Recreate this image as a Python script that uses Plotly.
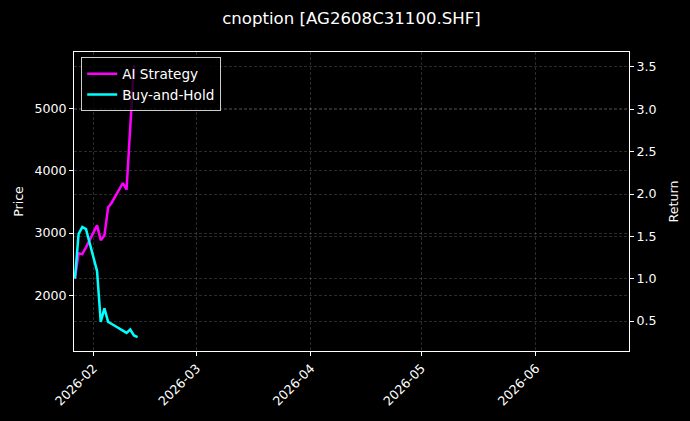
import plotly.graph_objects as go

# ---- data ----
dates = ["2026-01-27", "2026-01-28", "2026-01-29", "2026-01-30",
         "2026-02-02", "2026-02-03", "2026-02-04", "2026-02-05", "2026-02-06",
         "2026-02-09", "2026-02-10", "2026-02-11", "2026-02-12", "2026-02-13"]
ai_strategy = [1.00, 1.30, 1.29, 1.37, 1.63, 1.455, 1.51, 1.84, 1.90,
               2.13, 2.05, 2.78, 3.52, None]
buy_and_hold = [1.00, 1.53, 1.61, 1.585, 1.09, 0.49, 0.65, 0.49, 0.465,
                0.39, 0.36, 0.40, 0.33, 0.31]

title_text = "cnoption [AG2608C31100.SHF]"
price_range = [1106, 5908]
return_range = [0.146, 3.677]
x_range = ["2026-01-26 18:00", "2026-06-26 06:00"]

FONT = "DejaVu Sans"
GRID = "rgba(255,255,255,0.17)"

fig = go.Figure()
# empty trace so the left (Price) axis is created; it draws no mark
fig.add_trace(go.Scatter(x=[], y=[], yaxis="y", showlegend=False, hoverinfo="skip"))
fig.add_trace(go.Scatter(x=dates, y=ai_strategy, name="AI Strategy", mode="lines",
                         line=dict(color="#ff00ff", width=2.5), yaxis="y2"))
fig.add_trace(go.Scatter(x=dates, y=buy_and_hold, name="Buy-and-Hold", mode="lines",
                         line=dict(color="#00ffff", width=2.5), yaxis="y2"))

common = dict(showline=True, linecolor="white", linewidth=1,
              ticks="outside", ticklen=4, tickcolor="white",
              showgrid=True, gridcolor=GRID, griddash="3px,2px", gridwidth=0.8,
              zeroline=False, automargin=False)

fig.update_layout(
    width=690, height=421,
    paper_bgcolor="black", plot_bgcolor="black",
    font=dict(family=FONT, color="white", size=12.6),
    margin=dict(l=74, r=61, t=52, b=70),
    title=dict(text=title_text, x=0.5, xref="paper", y=0.957, yanchor="middle",
               xanchor="center", font=dict(size=16.6, color="white")),
    showlegend=True,
    legend=dict(x=0.013, y=0.982, xanchor="left", yanchor="top",
                bgcolor="rgba(0,0,0,0.8)", bordercolor="#cccccc", borderwidth=1,
                font=dict(size=13.6, color="white"), tracegroupgap=0),
    xaxis=dict(type="date", range=x_range, tickformat="%Y-%m", dtick="M1",
               tick0="2026-02-01", tickangle=-45, mirror=True, **common),
    yaxis=dict(range=price_range, tick0=2000, dtick=1000, side="left",
               title=dict(text="Price", standoff=8, font=dict(size=12.6)),
               **common),
    yaxis2=dict(range=return_range, tick0=0.5, dtick=0.5, tickformat=".1f",
                overlaying="y", side="right",
                title=dict(text="Return", standoff=13, font=dict(size=12.6)),
                **common),
)

fig.write_html("out.html", config={"displayModeBar": False},
               post_script="document.body.style.margin='0';")
